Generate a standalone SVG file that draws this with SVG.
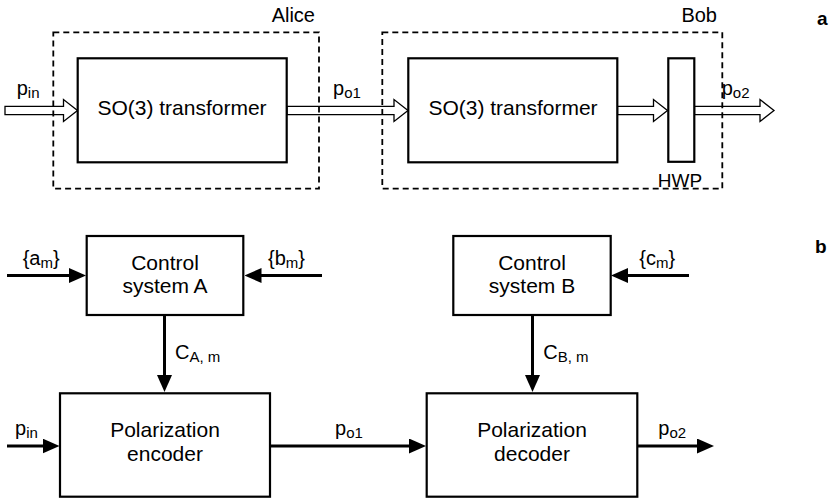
<svg xmlns="http://www.w3.org/2000/svg" width="829" height="498" viewBox="0 0 829 498">
<defs>
<style>
text{font-family:"Liberation Sans",Arial,sans-serif;fill:#000}
.big{font-size:21px}
.lab{font-size:20px}
.sub{font-size:15px}
.box{fill:#fff;stroke:#000;stroke-width:2.2}
.dash{fill:none;stroke:#000;stroke-width:1.8;stroke-dasharray:6 4}
.hollow{fill:#fff;stroke:#000;stroke-width:1.3;stroke-linejoin:miter}
.wire{fill:none;stroke:#000;stroke-width:3;marker-end:url(#ah)}
.panel{font-size:19px;font-weight:bold}
</style>
<marker id="ah" markerUnits="userSpaceOnUse" markerWidth="17" markerHeight="15" refX="3" refY="7.5" orient="auto">
<path d="M0,0 L17,7.5 L0,15 Z" fill="#000"/>
</marker>
</defs>
<rect width="829" height="498" fill="#fff"/>

<g id="connectors">
<polygon class="hollow" points="5,106.3 63.5,106.3 63.5,99.5 77.5,110.5 63.5,121.5 63.5,114.7 5,114.7"/>
<polygon class="hollow" points="287,106.3 394,106.3 394,99.5 408,110.5 394,121.5 394,114.7 287,114.7"/>
<polygon class="hollow" points="617.5,106.3 653.5,106.3 653.5,99.5 667.5,110.5 653.5,121.5 653.5,114.7 617.5,114.7"/>
<polygon class="hollow" points="694.5,106.3 760,106.3 760,99.5 774,110.5 760,121.5 760,114.7 694.5,114.7"/>
<line class="wire" x1="7" y1="275.5" x2="72" y2="275.5"/>
<line class="wire" x1="322" y1="275.5" x2="258.5" y2="275.5"/>
<line class="wire" x1="689" y1="275.5" x2="625" y2="275.5"/>
<line class="wire" x1="164.5" y1="315" x2="164.5" y2="378"/>
<line class="wire" x1="532.5" y1="315" x2="532.5" y2="378"/>
<line class="wire" x1="7" y1="446" x2="45.5" y2="446"/>
<line class="wire" x1="270" y1="446" x2="412" y2="446"/>
<line class="wire" x1="637" y1="446" x2="700" y2="446"/>
</g>

<g id="alice-so3">
<rect class="box" x="77.7" y="58.3" width="209" height="104"/>
<text class="big" x="182" y="115" text-anchor="middle">SO(3) transformer</text>
</g>
<g id="bob-so3">
<rect class="box" x="408.3" y="58.3" width="209" height="104"/>
<text class="big" x="513" y="115" text-anchor="middle">SO(3) transformer</text>
</g>
<g id="hwp">
<rect class="box" x="668.3" y="58.3" width="26" height="103.5"/>
<text x="680" y="187" text-anchor="middle" font-size="19">HWP</text>
</g>
<g id="alice">
<rect class="dash" x="53.3" y="32.3" width="265.7" height="156.4"/>
<text class="lab" x="315" y="21.7" text-anchor="end">Alice</text>
</g>
<g id="bob">
<rect class="dash" x="382.3" y="32.3" width="340" height="156.4"/>
<text class="lab" x="717" y="21.7" text-anchor="end">Bob</text>
</g>

<g id="ctrlA">
<rect class="box" x="86.7" y="236" width="156.6" height="79"/>
<text class="big" x="165" y="270" text-anchor="middle">Control</text>
<text class="big" x="165" y="293.3" text-anchor="middle">system A</text>
</g>
<g id="ctrlB">
<rect class="box" x="453.3" y="236" width="157.4" height="79"/>
<text class="big" x="532" y="270" text-anchor="middle">Control</text>
<text class="big" x="532" y="293.3" text-anchor="middle">system B</text>
</g>
<g id="encoder">
<rect class="box" x="60" y="393.3" width="210" height="103.4"/>
<text class="big" x="165" y="437.3" text-anchor="middle">Polarization</text>
<text class="big" x="165" y="460.7" text-anchor="middle">encoder</text>
</g>
<g id="decoder">
<rect class="box" x="426.7" y="393.3" width="210.6" height="103.4"/>
<text class="big" x="532" y="437.3" text-anchor="middle">Polarization</text>
<text class="big" x="532" y="460.7" text-anchor="middle">decoder</text>
</g>

<g id="labels">
<text class="lab" x="16.7" y="95">p<tspan class="sub" dy="3">in</tspan></text>
<text class="lab" x="333" y="95">p<tspan class="sub" dy="3">o1</tspan></text>
<text class="lab" x="721.7" y="95">p<tspan class="sub" dy="3">o2</tspan></text>
<text class="lab" x="22.7" y="265">{a<tspan class="sub" dy="3">m</tspan><tspan dy="-3">}</tspan></text>
<text class="lab" x="268" y="265">{b<tspan class="sub" dy="3">m</tspan><tspan dy="-3">}</tspan></text>
<text class="lab" x="639.3" y="265">{c<tspan class="sub" dy="3">m</tspan><tspan dy="-3">}</tspan></text>
<text class="lab" x="175" y="358.5">C<tspan class="sub" dy="3">A, m</tspan></text>
<text class="lab" x="543.3" y="358.5">C<tspan class="sub" dy="3">B, m</tspan></text>
<text class="lab" x="15" y="435">p<tspan class="sub" dy="3">in</tspan></text>
<text class="lab" x="335" y="435">p<tspan class="sub" dy="3">o1</tspan></text>
<text class="lab" x="658.3" y="435">p<tspan class="sub" dy="3">o2</tspan></text>
<text class="panel" x="817" y="25">a</text>
<text class="panel" x="815" y="253">b</text>
</g>
</svg>
